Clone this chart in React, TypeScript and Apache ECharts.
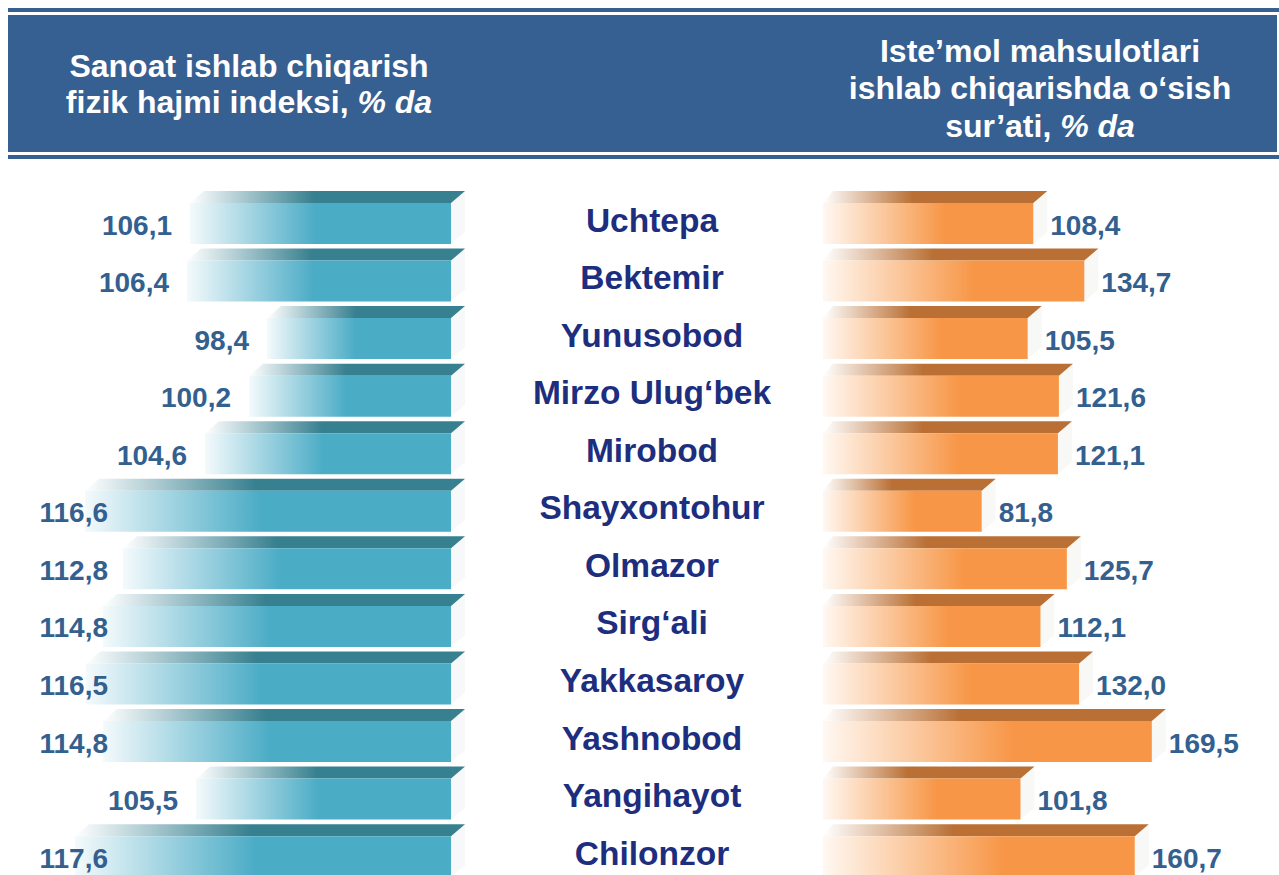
import React, { useEffect, useRef } from "react";
import * as echarts from "echarts";

const categories = [
  "Uchtepa",
  "Bektemir",
  "Yunusobod",
  "Mirzo Ulug‘bek",
  "Mirobod",
  "Shayxontohur",
  "Olmazor",
  "Sirg‘ali",
  "Yakkasaroy",
  "Yashnobod",
  "Yangihayot",
  "Chilonzor",
];
const industryIndex = [106.1, 106.4, 98.4, 100.2, 104.6, 116.6, 112.8, 114.8, 116.5, 114.8, 105.5, 117.6];
const consumerGrowth = [108.4, 134.7, 105.5, 121.6, 121.1, 81.8, 125.7, 112.1, 132.0, 169.5, 101.8, 160.7];

const leftTitle = ["Sanoat ishlab chiqarish", "fizik hajmi indeksi, ", "% da"];
const rightTitle = ["Iste’mol mahsulotlari", "ishlab chiqarishda o‘sish", "sur’ati, ", "% da"];

const LEFT_MIN = 80;
const LEFT_MAX = 125;
const RIGHT_MIN = 0;
const RIGHT_MAX = 200;

const FONT = '"Liberation Sans", Arial, sans-serif';
const HEADER_BLUE = "#366092";
const VALUE_COLOR = "#33608F";
const CAT_COLOR = "#1D2E7E";

const fmt = (v: number) => v.toFixed(1).replace(".", ",");

const lin = (stops: [number, string][]) => ({
  type: "linear",
  x: 0,
  y: 0,
  x2: 1,
  y2: 0,
  colorStops: stops.map(([offset, color]) => ({ offset, color })),
});

export default function App() {
  const ref = useRef<HTMLDivElement>(null);

  useEffect(() => {
    if (!ref.current) return;
    document.body.style.margin = "0";
    document.body.style.overflow = "hidden";
    const chart = echarts.init(ref.current, undefined, { renderer: "svg" });

    const dx = 14;
    const geom = (yc: number) => ({
      top: yc - 29,
      faceTop: yc - 17,
      faceBottom: yc + 24,
    });

    const renderLeft = (params: any, api: any) => {
      const v = api.value(0);
      const idx = api.value(1);
      const [xEnd, yc] = api.coord([v, idx]);
      const xBase = api.coord([LEFT_MIN, idx])[0];
      const { top, faceTop, faceBottom } = geom(yc);
      const labelRight = Math.max(xEnd - 18, 108);
      return {
        type: "group",
        children: [
          {
            type: "polygon",
            shape: { points: [[xBase, faceTop], [xBase + dx, top], [xBase + dx, faceBottom - 12], [xBase, faceBottom]] },
            style: { fill: "#F7F8F9" },
          },
          {
            type: "polygon",
            shape: { points: [[xEnd + dx, top], [xBase + dx, top], [xBase, faceTop], [xEnd, faceTop]] },
            style: { fill: lin([[0, "rgba(55,128,145,0)"], [0.45, "#37808F"], [1, "#37808F"]]) },
          },
          {
            type: "rect",
            shape: { x: xEnd, y: faceTop, width: xBase - xEnd, height: faceBottom - faceTop },
            style: { fill: lin([[0, "#F4FAFC"], [0.48, "#4BACC6"], [1, "#4BACC6"]]) },
          },
          {
            type: "text",
            x: labelRight,
            y: yc + 5,
            style: {
              text: fmt(v),
              align: "right",
              verticalAlign: "middle",
              fontSize: 28,
              fontWeight: "bold",
              fontFamily: FONT,
              fill: VALUE_COLOR,
            },
          },
        ],
      };
    };

    const renderRight = (params: any, api: any) => {
      const v = api.value(0);
      const idx = api.value(1);
      const [xEnd, yc] = api.coord([v, idx]);
      const xBase = api.coord([RIGHT_MIN, idx])[0];
      const { top, faceTop, faceBottom } = geom(yc);
      return {
        type: "group",
        children: [
          {
            type: "polygon",
            shape: { points: [[xEnd, faceTop], [xEnd + dx, top], [xEnd + dx, faceBottom - 12], [xEnd, faceBottom]] },
            style: { fill: "#F8F8F7" },
          },
          {
            type: "polygon",
            shape: { points: [[xBase + dx - 4, top], [xEnd + dx, top], [xEnd, faceTop], [xBase, faceTop]] },
            style: { fill: lin([[0, "rgba(186,112,53,0)"], [0.4, "#BA7035"], [1, "#BA7035"]]) },
          },
          {
            type: "rect",
            shape: { x: xBase, y: faceTop, width: xEnd - xBase, height: faceBottom - faceTop },
            style: { fill: lin([[0, "#FFF8F2"], [0.58, "#F79646"], [1, "#F79646"]]) },
          },
          {
            type: "text",
            x: xEnd + 17,
            y: yc + 5,
            style: {
              text: fmt(v),
              align: "left",
              verticalAlign: "middle",
              fontSize: 28,
              fontWeight: "bold",
              fontFamily: FONT,
              fill: VALUE_COLOR,
            },
          },
        ],
      };
    };

    const rowH = 57.56;
    const gridTop = 220 - rowH / 2;
    const gridH = rowH * categories.length;

    const option: any = {
      animation: false,
      backgroundColor: "#ffffff",
      grid: [
        { left: 1, width: 450, top: gridTop, height: gridH },
        { left: 823, width: 388, top: gridTop, height: gridH },
      ],
      xAxis: [
        { type: "value", gridIndex: 0, inverse: true, min: LEFT_MIN, max: LEFT_MAX, show: false },
        { type: "value", gridIndex: 1, min: RIGHT_MIN, max: RIGHT_MAX, show: false },
      ],
      yAxis: [
        {
          type: "category",
          gridIndex: 0,
          inverse: true,
          position: "right",
          data: categories,
          axisLine: { show: false },
          axisTick: { show: false },
          splitLine: { show: false },
          axisLabel: {
            margin: 201,
            align: "center",
            verticalAlign: "middle",
            fontSize: 33.5,
            fontWeight: "bold",
            fontFamily: FONT,
            color: CAT_COLOR,
          },
        },
        { type: "category", gridIndex: 1, inverse: true, data: categories, show: false },
      ],
      series: [
        {
          type: "custom",
          xAxisIndex: 0,
          yAxisIndex: 0,
          renderItem: renderLeft,
          data: industryIndex.map((v, i) => [v, i]),
          encode: { x: 0, y: 1 },
        },
        {
          type: "custom",
          xAxisIndex: 1,
          yAxisIndex: 1,
          renderItem: renderRight,
          data: consumerGrowth.map((v, i) => [v, i]),
          encode: { x: 0, y: 1 },
        },
      ],
      graphic: [
        { type: "rect", left: 8, top: 8, shape: { width: 1271, height: 4 }, style: { fill: HEADER_BLUE } },
        { type: "rect", left: 8, top: 15, shape: { width: 1269, height: 137 }, style: { fill: HEADER_BLUE } },
        { type: "rect", left: 8, top: 155, shape: { width: 1271, height: 4 }, style: { fill: HEADER_BLUE } },
        {
          type: "text",
          x: 249,
          y: 84,
          style: {
            text: `{n|${leftTitle[0]}}\n{n|${leftTitle[1]}}{i|${leftTitle[2]}}`,
            align: "center",
            verticalAlign: "middle",
            fill: "#ffffff",
            rich: {
              n: { fontSize: 32, fontWeight: "bold", fontFamily: FONT, color: "#ffffff", lineHeight: 36.5 },
              i: { fontSize: 32, fontWeight: "bold", fontStyle: "italic", fontFamily: FONT, color: "#ffffff", lineHeight: 36.5 },
            },
          },
        },
        {
          type: "text",
          x: 1040,
          y: 88,
          style: {
            text: `{n|${rightTitle[0]}}\n{n|${rightTitle[1]}}\n{n|${rightTitle[2]}}{i|${rightTitle[3]}}`,
            align: "center",
            verticalAlign: "middle",
            fill: "#ffffff",
            rich: {
              n: { fontSize: 32, fontWeight: "bold", fontFamily: FONT, color: "#ffffff", lineHeight: 37.5 },
              i: { fontSize: 32, fontWeight: "bold", fontStyle: "italic", fontFamily: FONT, color: "#ffffff", lineHeight: 37.5 },
            },
          },
        },
      ],
    };

    chart.setOption(option);
    return () => chart.dispose();
  }, []);

  return (
    <div
      ref={ref}
      style={{ position: "fixed", left: 0, top: 0, width: 1279, height: 900, background: "#fff" }}
    />
  );
}
